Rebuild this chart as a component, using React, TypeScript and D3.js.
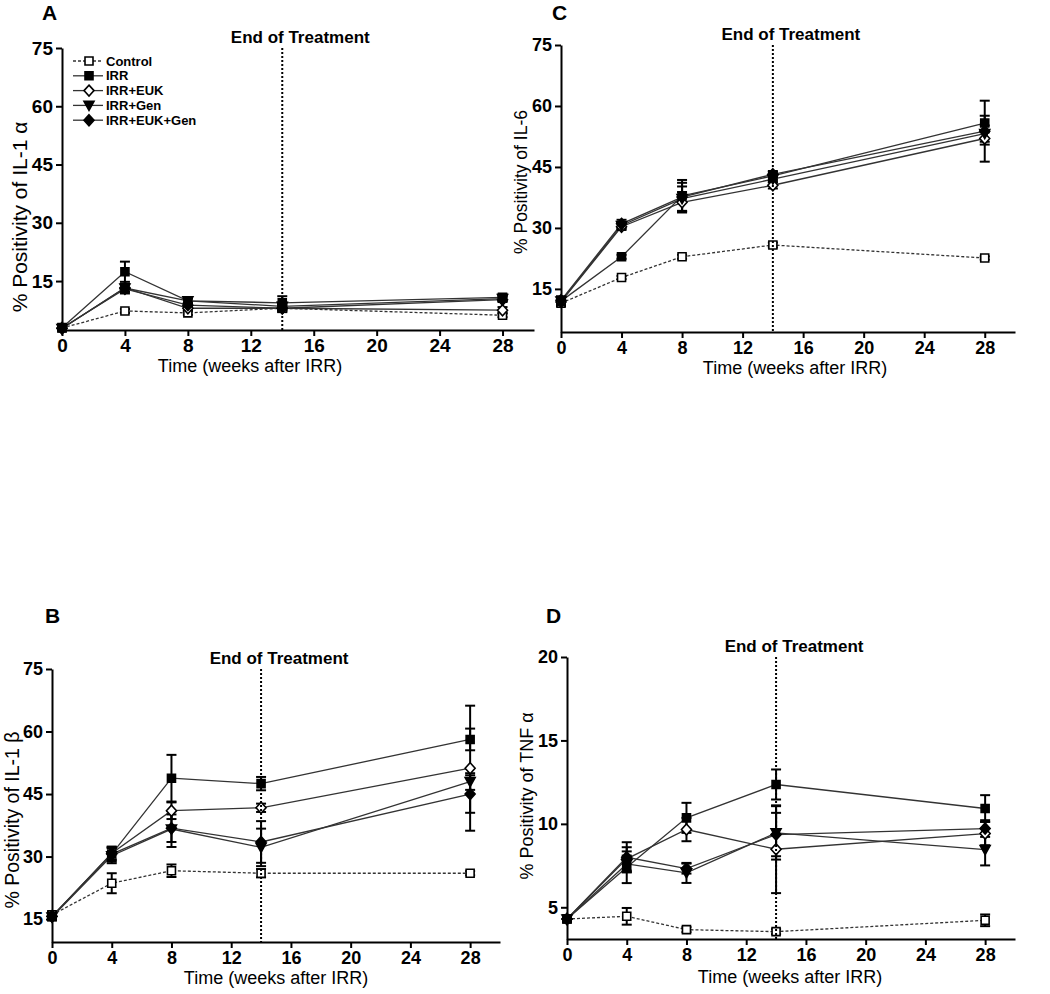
import { useEffect, useRef } from 'react'
import * as d3 from 'd3'

const weeks = [0, 4, 8, 14, 28]
const groups = ['Control', 'IRR', 'IRR+EUK', 'IRR+Gen', 'IRR+EUK+Gen']
const xTicks = [0, 4, 8, 12, 16, 20, 24, 28]
const endOfTreatment = 14

// panel A: IL-1 alpha
const il1aMean = [
  [2.9, 7.3, 6.8, 8.0, 6.2],
  [3.0, 17.4, 9.9, 9.4, 10.8],
  [2.8, 13.3, 8.0, 8.0, 7.5],
  [2.8, 13.2, 9.9, 8.5, 10.5],
  [2.9, 13.0, 8.8, 8.0, 10.2],
]
const il1aErr = [
  [0.3, 0.5, 0.5, 0.5, 0.5],
  [0.4, 2.6, 0.8, 1.7, 0.8],
  [0.3, 1.0, 0.6, 0.8, 0.8],
  [0.3, 1.0, 0.6, 1.0, 0.6],
  [0.3, 1.2, 0.6, 1.0, 0.6],
]

// panel B: IL-1 beta
const il1bMean = [
  [16.0, 23.6, 26.6, 26.0, 26.0],
  [15.6, 30.6, 48.8, 47.5, 58.1],
  [15.6, 30.8, 41.0, 41.7, 51.2],
  [15.5, 30.2, 36.6, 32.2, 48.0],
  [15.7, 30.6, 36.8, 33.5, 45.0],
]
const il1bErr = [
  [0.8, 2.4, 1.5, 1.0, 0.5],
  [0.8, 1.5, 5.6, 1.6, 2.6],
  [0.8, 1.5, 2.0, 1.0, 15.0],
  [0.8, 1.8, 4.3, 4.5, 2.0],
  [0.8, 1.8, 3.3, 5.0, 4.5],
]

// panel C: IL-6
const il6Mean = [
  [11.5, 17.8, 22.9, 25.8, 22.6],
  [12.0, 22.9, 37.9, 42.8, 55.8],
  [11.8, 30.3, 36.3, 40.5, 52.0],
  [12.0, 30.6, 37.2, 42.0, 53.2],
  [12.2, 31.0, 37.6, 43.2, 53.8],
]
const il6Err = [
  [0.5, 0.4, 0.5, 0.6, 0.4],
  [1.0, 0.5, 3.9, 1.0, 1.8],
  [1.0, 0.8, 2.5, 0.8, 1.5],
  [1.0, 0.8, 3.0, 0.8, 2.0],
  [1.0, 1.0, 3.5, 0.8, 7.5],
]

// panel D: TNF alpha
const tnfMean = [
  [4.3, 4.46, 3.66, 3.54, 4.22],
  [4.3, 7.4, 10.36, 12.36, 10.92],
  [4.3, 7.9, 9.66, 8.48, 9.42],
  [4.3, 7.6, 7.06, 9.46, 8.46],
  [4.3, 8.0, 7.32, 9.36, 9.72],
]
const tnfErr = [
  [0.15, 0.5, 0.15, 0.15, 0.35],
  [0.15, 0.95, 0.9, 0.9, 0.8],
  [0.15, 0.7, 0.7, 2.63, 0.7],
  [0.15, 0.5, 0.6, 1.6, 0.95],
  [0.15, 0.9, 0.3, 1.3, 0.5],
]

const FONT = 'Arial, "Liberation Sans", Helvetica, sans-serif'

interface Panel {
  letter: string
  yLabel: string
  yLabelSize: number
  means: number[][]
  errs: number[][]
  yDomain: [number, number]
  yTicks: number[]
  left: number
  right: number
  top: number
  bottom: number
  letterPos: [number, number]
  yLabelPos: [number, number]
  xLabelPos: [number, number]
  legend?: boolean
}

const panels: Panel[] = [
  {
    letter: 'A', yLabel: '% Positivity of IL-1 α', yLabelSize: 21,
    means: il1aMean, errs: il1aErr, yDomain: [2.4, 75], yTicks: [15, 30, 45, 60, 75],
    left: 62, right: 534, top: 48, bottom: 330,
    letterPos: [42, 20], yLabelPos: [20, 217], xLabelPos: [250, 372], legend: true,
  },
  {
    letter: 'C', yLabel: '% Positivity of IL-6', yLabelSize: 17.5,
    means: il6Mean, errs: il6Err, yDomain: [4.4, 75], yTicks: [15, 30, 45, 60, 75],
    left: 561, right: 1015, top: 45, bottom: 332,
    letterPos: [552, 20], yLabelPos: [521, 182], xLabelPos: [795, 374],
  },
  {
    letter: 'B', yLabel: '% Positivity of IL-1 β', yLabelSize: 19.5,
    means: il1bMean, errs: il1bErr, yDomain: [9.5, 75], yTicks: [15, 30, 45, 60, 75],
    left: 52, right: 500, top: 669, bottom: 942,
    letterPos: [45, 623], yLabelPos: [12, 820], xLabelPos: [276, 984],
  },
  {
    letter: 'D', yLabel: '% Positivity of TNF α', yLabelSize: 18,
    means: tnfMean, errs: tnfErr, yDomain: [3.1, 20], yTicks: [5, 10, 15, 20],
    left: 567, right: 1015, top: 657, bottom: 939,
    letterPos: [546, 623], yLabelPos: [527, 796], xLabelPos: [790, 983],
  },
]

// marker shapes per group
const markerPath = (i: number) => {
  if (i === 0 || i === 1) return 'M-4,-4L4,-4L4,4L-4,4Z'
  if (i === 2 || i === 4) return 'M0,-5.5L5,0L0,5.5L-5,0Z'
  return 'M-5,-4L5,-4L0,5Z'
}
const markerFill = (i: number) => (i === 0 || i === 2 ? '#fff' : '#000')

export default function App() {
  const svgRef = useRef<SVGSVGElement>(null)

  useEffect(() => {
    if (!svgRef.current) return
    const svg = d3.select(svgRef.current)
    svg.selectAll('*').remove()

    svg.append('rect').attr('width', 1050).attr('height', 994).attr('fill', '#fff')

    panels.forEach(p => {
      const x = d3.scaleLinear().domain([0, 30]).range([p.left, p.right])
      const y = d3.scaleLinear().domain(p.yDomain).range([p.bottom, p.top])
      const g = svg.append('g')

      // series lines
      const line = d3.line<number>()
        .x((_, k) => x(weeks[k]))
        .y(d => y(d))
      p.means.forEach((m, i) => {
        g.append('path')
          .attr('d', line(m))
          .attr('fill', 'none')
          .attr('stroke', '#333')
          .attr('stroke-width', 1.3)
          .attr('stroke-dasharray', i === 0 ? '3,2' : null)
      })

      // error bars
      p.means.forEach((m, i) => {
        m.forEach((v, k) => {
          const e = p.errs[i][k]
          const cx = x(weeks[k])
          const y1 = y(v - e)
          const y2 = y(v + e)
          g.append('line').attr('x1', cx).attr('x2', cx).attr('y1', y1).attr('y2', y2)
            .attr('stroke', '#000').attr('stroke-width', 2)
          ;[y1, y2].forEach(yy => {
            g.append('line').attr('x1', cx - 5).attr('x2', cx + 5).attr('y1', yy).attr('y2', yy)
              .attr('stroke', '#000').attr('stroke-width', 2)
          })
        })
      })

      // markers
      p.means.forEach((m, i) => {
        g.selectAll(null)
          .data(m)
          .enter().append('path')
          .attr('d', markerPath(i))
          .attr('transform', (d, k) => `translate(${x(weeks[k])},${y(d)})`)
          .attr('fill', markerFill(i))
          .attr('stroke', '#000')
          .attr('stroke-width', 1.6)
      })

      // end of treatment line
      g.append('line')
        .attr('x1', x(endOfTreatment)).attr('x2', x(endOfTreatment))
        .attr('y1', p.top).attr('y2', p.bottom)
        .attr('stroke', '#000').attr('stroke-width', 2)
        .attr('stroke-dasharray', '2,2')
      g.append('text')
        .attr('x', x(endOfTreatment) + 18).attr('y', p.top - 5)
        .attr('text-anchor', 'middle')
        .style('font-family', FONT).style('font-weight', 'bold').style('font-size', '17px')
        .text('End of Treatment')

      // axes
      const yAxis = g.append('g')
        .attr('transform', `translate(${p.left},0)`)
        .call(d3.axisLeft(y).tickValues(p.yTicks).tickSize(6).tickSizeOuter(0).tickPadding(3))
      const xAxis = g.append('g')
        .attr('transform', `translate(0,${p.bottom})`)
        .call(d3.axisBottom(x).tickValues(xTicks).tickSize(6).tickSizeOuter(0).tickPadding(3))
      ;[yAxis, xAxis].forEach(a => {
        a.select('.domain').attr('stroke', '#000').attr('stroke-width', 2)
        a.selectAll('.tick line').attr('stroke', '#000').attr('stroke-width', 2)
        a.selectAll('.tick text')
          .attr('fill', '#000')
          .style('font-family', FONT).style('font-weight', 'bold')
          .style('font-size', p.letter === 'A' ? '19px' : '18px')
      })

      // axis labels
      g.append('text')
        .attr('transform', `translate(${p.yLabelPos[0]},${p.yLabelPos[1]}) rotate(-90)`)
        .attr('text-anchor', 'middle')
        .attr('dy', '0.35em')
        .style('font-family', FONT).style('font-size', `${p.yLabelSize}px`)
        .text(p.yLabel)
      g.append('text')
        .attr('x', p.xLabelPos[0]).attr('y', p.xLabelPos[1])
        .attr('text-anchor', 'middle')
        .style('font-family', FONT).style('font-size', '18px')
        .text('Time (weeks after IRR)')

      g.append('text')
        .attr('x', p.letterPos[0]).attr('y', p.letterPos[1])
        .style('font-family', FONT).style('font-weight', 'bold').style('font-size', '21px')
        .text(p.letter)

      if (p.legend) {
        const lg = g.append('g').attr('transform', 'translate(73,61)')
        groups.forEach((name, i) => {
          const row = lg.append('g').attr('transform', `translate(0,${i * 14.8})`)
          row.append('line').attr('x1', 0).attr('x2', 30)
            .attr('stroke', '#333').attr('stroke-width', 1.3)
            .attr('stroke-dasharray', i === 0 ? '3,2' : null)
          row.append('path').attr('d', markerPath(i))
            .attr('transform', 'translate(16,0)')
            .attr('fill', markerFill(i)).attr('stroke', '#000').attr('stroke-width', 1.6)
          row.append('text').attr('x', 33).attr('dy', '0.35em')
            .style('font-family', FONT).style('font-weight', 'bold').style('font-size', '13px')
            .text(name)
        })
      }
    })
  }, [])

  return (
    <svg
      ref={svgRef}
      width={1050}
      height={994}
      style={{ position: 'absolute', left: 0, top: 0 }}
    />
  )
}
